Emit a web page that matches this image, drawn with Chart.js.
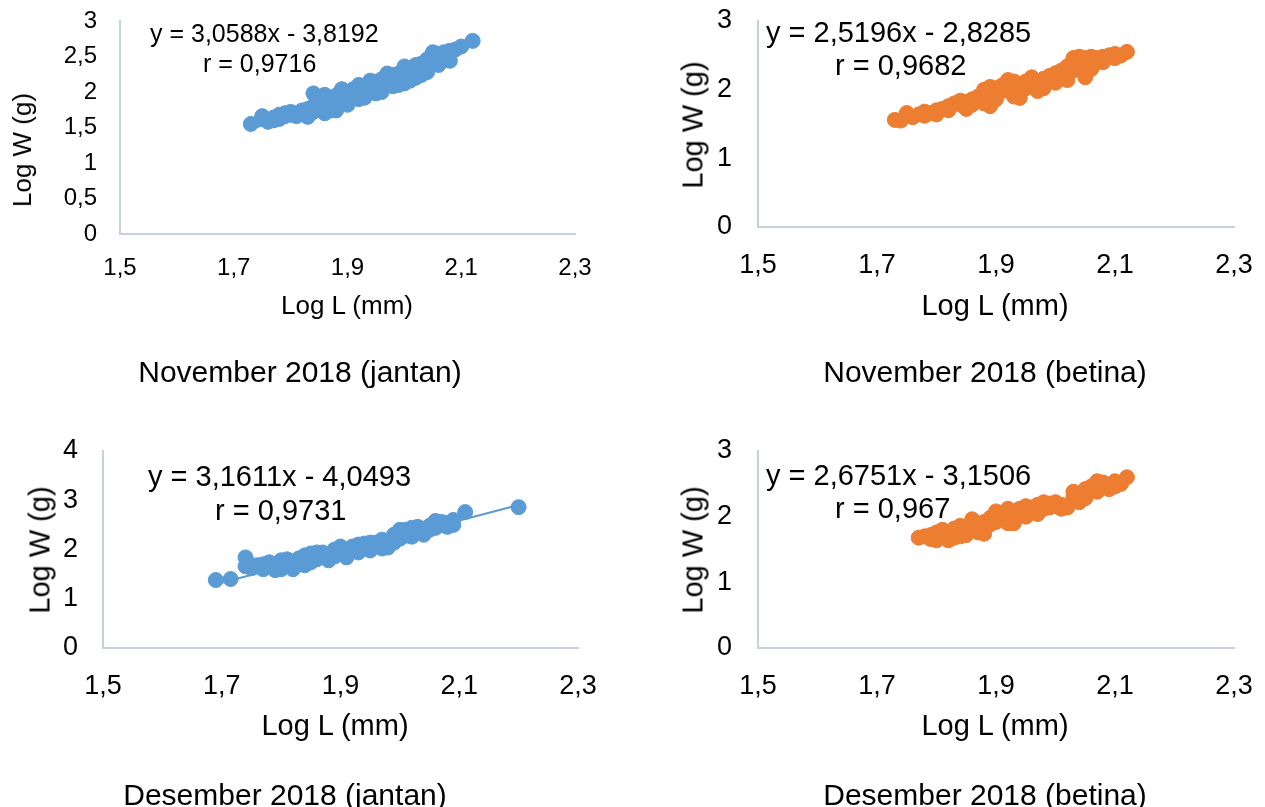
<!DOCTYPE html>
<html><head><meta charset="utf-8">
<script src="https://cdn.jsdelivr.net/npm/chart.js@4.4.0/dist/chart.umd.min.js"></script>
<style>
html,body{margin:0;padding:0;background:#fff;}
body{width:1265px;height:807px;position:relative;overflow:hidden;font-family:"Liberation Sans",Arial,sans-serif;}
canvas{position:absolute;}
.t{position:absolute;white-space:nowrap;color:#000;line-height:1;}
</style></head><body>
<script>
// ---------- DATA ----------
const xTickValues = [1.5, 1.7, 1.9, 2.1, 2.3];
const xTickLabels = ['1,5', '1,7', '1,9', '2,1', '2,3'];
const yTickValuesNovJantan = [0, 0.5, 1, 1.5, 2, 2.5, 3];
const yTickLabelsNovJantan = ['0', '0,5', '1', '1,5', '2', '2,5', '3'];
const yTickValues3 = [0, 1, 2, 3];
const yTickLabels3 = ['0', '1', '2', '3'];
const yTickValues4 = [0, 1, 2, 3, 4];
const yTickLabels4 = ['0', '1', '2', '3', '4'];

const titles = ['November 2018 (jantan)', 'November 2018 (betina)', 'Desember 2018 (jantan)', 'Desember 2018 (betina)'];
const equations = ['y = 3,0588x - 3,8192', 'y = 2,5196x - 2,8285', 'y = 3,1611x - 4,0493', 'y = 2,6751x - 3,1506'];
const rValues = ['r = 0,9716', 'r = 0,9682', 'r = 0,9731', 'r = 0,967'];
const slopes = [3.0588, 2.5196, 3.1611, 2.6751];
const intercepts = [-3.8192, -2.8285, -4.0493, -3.1506];

const novJantanL = [1.73,1.75,1.75,1.76,1.77,1.77,1.78,1.78,1.79,1.79,1.80,1.80,1.81,1.81,1.82,1.82,1.83,1.83,1.84,1.84,1.84,1.85,1.85,1.86,1.86,1.86,1.87,1.87,1.87,1.88,1.88,1.88,1.89,1.89,1.90,1.90,1.90,1.91,1.91,1.92,1.92,1.92,1.93,1.93,1.94,1.94,1.95,1.95,1.95,1.96,1.96,1.97,1.97,1.98,1.98,1.98,1.99,1.99,2.00,2.00,2.00,2.01,2.01,2.02,2.02,2.02,2.03,2.03,2.04,2.04,2.04,2.05,2.05,2.06,2.06,2.07,2.07,2.08,2.08,2.09,2.10,2.12,
  1.86,1.89,1.90,1.93,1.94,1.96,1.97,1.99,2.00,2.01,2.03,2.05,2.06,1.88,1.92];
const novJantanW = [1.55,1.62,1.66,1.58,1.60,1.64,1.62,1.68,1.66,1.70,1.68,1.72,1.70,1.66,1.74,1.70,1.65,1.76,1.98,1.80,1.72,1.84,1.78,1.70,1.88,1.82,1.74,1.92,1.86,1.95,1.90,1.80,1.98,1.88,1.94,2.00,1.86,1.96,2.04,2.06,1.98,1.90,2.02,2.08,2.10,2.00,2.14,2.04,1.98,2.18,2.10,2.12,2.20,2.16,2.24,2.08,2.26,2.20,2.30,2.22,2.12,2.34,2.26,2.38,2.30,2.20,2.40,2.32,2.46,2.36,2.28,2.50,2.42,2.54,2.46,2.56,2.50,2.58,2.44,2.60,2.64,2.72,
  1.96,2.04,1.82,1.92,2.16,2.00,2.26,2.10,2.36,2.16,2.24,2.56,2.38,1.74,2.10];

const novBetinaL = [1.73,1.74,1.75,1.75,1.76,1.77,1.78,1.78,1.79,1.80,1.80,1.81,1.82,1.82,1.83,1.84,1.84,1.85,1.85,1.86,1.87,1.87,1.88,1.88,1.88,1.89,1.89,1.90,1.90,1.91,1.91,1.92,1.92,1.93,1.93,1.94,1.94,1.95,1.95,1.96,1.96,1.97,1.97,1.98,1.98,1.99,1.99,2.00,2.00,2.01,2.01,2.02,2.02,2.03,2.03,2.04,2.04,2.05,2.05,2.05,2.06,2.06,2.07,2.07,2.08,2.08,2.09,2.10,2.10,2.11,2.12,
  1.86,1.89,1.90,1.92,1.94,1.96,1.98,2.00,2.02,2.03,2.04,2.06,1.93,1.97];
const novBetinaW = [1.56,1.55,1.62,1.66,1.60,1.64,1.62,1.68,1.66,1.70,1.64,1.72,1.76,1.70,1.80,1.78,1.84,1.72,1.82,1.86,1.90,1.84,2.00,1.92,1.80,1.76,1.96,2.02,1.94,2.06,1.98,2.10,2.00,2.04,1.90,2.08,1.96,2.12,2.02,2.06,2.14,2.10,2.00,2.16,2.08,2.12,2.20,2.18,2.10,2.28,2.16,2.34,2.22,2.40,2.28,2.44,2.32,2.46,2.36,2.18,2.42,2.30,2.40,2.46,2.48,2.40,2.50,2.46,2.52,2.50,2.55,
  1.78,2.04,1.86,2.14,1.88,2.18,2.02,2.24,2.14,2.46,2.48,2.48,2.12,1.98];

const desJantanL = [1.69,1.715,1.74,1.74,1.745,1.75,1.76,1.77,1.77,1.78,1.78,1.79,1.79,1.80,1.80,1.81,1.81,1.82,1.82,1.83,1.83,1.84,1.84,1.85,1.85,1.86,1.86,1.87,1.88,1.88,1.89,1.89,1.90,1.90,1.91,1.91,1.92,1.92,1.93,1.93,1.94,1.94,1.95,1.95,1.96,1.96,1.97,1.97,1.98,1.98,1.99,1.99,2.00,2.00,2.01,2.01,2.02,2.02,2.03,2.03,2.04,2.04,2.05,2.05,2.06,2.06,2.07,2.07,2.08,2.08,2.09,2.09,2.11,2.20,
  1.95,1.97,1.99,2.00,2.02,2.04,2.06,1.93,1.90,1.87,1.84,1.80];
const desJantanW = [1.38,1.40,1.84,1.66,1.72,1.62,1.68,1.60,1.70,1.66,1.74,1.58,1.70,1.64,1.78,1.72,1.80,1.60,1.76,1.70,1.82,1.68,1.78,1.92,1.74,1.80,1.94,1.84,1.78,1.90,2.00,1.86,1.94,2.02,1.84,1.98,2.06,1.96,2.10,2.00,2.04,2.12,2.08,1.98,2.14,2.06,2.20,2.10,2.16,2.04,2.24,2.30,2.22,2.34,2.28,2.40,2.36,2.26,2.46,2.38,2.42,2.34,2.48,2.40,2.52,2.44,2.50,2.56,2.54,2.46,2.60,2.50,2.76,2.86,
  2.14,2.02,2.14,2.40,2.44,2.30,2.58,1.94,2.06,1.94,1.88,1.60];

const desBetinaL = [1.77,1.78,1.79,1.79,1.80,1.80,1.81,1.81,1.82,1.82,1.83,1.83,1.84,1.84,1.85,1.85,1.86,1.86,1.87,1.87,1.88,1.88,1.89,1.89,1.90,1.90,1.91,1.91,1.92,1.92,1.93,1.93,1.94,1.94,1.95,1.95,1.96,1.96,1.97,1.97,1.98,1.99,1.99,2.00,2.01,2.02,2.03,2.03,2.04,2.04,2.05,2.05,2.06,2.06,2.07,2.07,2.08,2.08,2.09,2.10,2.10,2.11,2.12,
  1.86,1.88,1.90,1.92,1.93,1.95,1.97,1.98,2.00,2.01,2.05,2.07,2.09,1.84,1.82];
const desBetinaW = [1.68,1.70,1.66,1.72,1.64,1.76,1.70,1.80,1.64,1.74,1.82,1.68,1.78,1.86,1.72,1.84,1.80,1.90,1.86,1.76,1.92,1.82,1.88,1.98,2.02,1.92,1.96,2.06,2.02,1.90,2.08,1.98,2.04,2.12,2.00,2.10,2.14,2.06,2.10,2.18,2.12,2.20,2.14,2.16,2.18,2.14,2.38,2.30,2.34,2.22,2.42,2.36,2.40,2.46,2.50,2.38,2.44,2.52,2.48,2.54,2.46,2.50,2.60,
  1.96,1.74,2.08,2.12,1.90,2.16,2.04,2.22,2.22,2.12,2.28,2.54,2.42,1.70,1.66];

// ---------- LAYOUT ----------
const BLUE = '#5B9BD5', ORANGE = '#ED7D31', AXIS = '#C5D0E0';
const panels = [
  {xs: novJantanL, ys: novJantanW, color: BLUE, yMax: 3, yv: yTickValuesNovJantan, yl: yTickLabelsNovJantan,
   box: [0, 0, 632, 420], area: [120, 21, 575, 234], tick: 24, xPad: 20, yPad: 23,
   eqFont: 25, eq1: [150, 33], eq2: [203, 63], titleFont: 26, subFont: 30, xt: [347, 305], yt: [22, 150], sub: [300, 372]},
  {xs: novBetinaL, ys: novBetinaW, color: ORANGE, yMax: 3, yv: yTickValues3, yl: yTickLabels3,
   box: [632, 0, 633, 420], area: [758, 21, 1234, 227], tick: 27, xPad: 22, yPad: 26,
   eqFont: 29, eq1: [766, 32], eq2: [835, 65], titleFont: 29, subFont: 30, xt: [995, 305], yt: [693, 125], sub: [985, 372]},
  {xs: desJantanL, ys: desJantanW, color: BLUE, yMax: 4, yv: yTickValues4, yl: yTickLabels4,
   box: [0, 420, 632, 387], area: [103, 451, 578, 648], tick: 27, xPad: 22, yPad: 25,
   eqFont: 29, eq1: [148, 476], eq2: [215, 510], titleFont: 29, subFont: 30, xt: [335, 725], yt: [40, 550], sub: [285, 795]},
  {xs: desBetinaL, ys: desBetinaW, color: ORANGE, yMax: 3, yv: yTickValues3, yl: yTickLabels3,
   box: [632, 420, 633, 387], area: [758, 451, 1234, 648], tick: 27, xPad: 22, yPad: 26,
   eqFont: 29, eq1: [766, 475], eq2: [835, 508], titleFont: 29, subFont: 30, xt: [995, 725], yt: [693, 550], sub: [985, 795]}
];

function addText(txt, x, y, size, mode) {
  const d = document.createElement('div');
  d.className = 't';
  d.textContent = txt;
  d.style.left = x + 'px';
  d.style.top = y + 'px';
  d.style.fontSize = size + 'px';
  if (mode === 'center') d.style.transform = 'translate(-50%,-50%)';
  else if (mode === 'rot') d.style.transform = 'translate(-50%,-50%) rotate(-90deg)';
  else d.style.transform = 'translateY(-50%)';
  document.body.appendChild(d);
}

const YW = 60, XH = 60;
panels.forEach((p, k) => {
  const [bl, bt, bw, bh] = p.box;
  const [al, at, ar, ab] = p.area;
  const cv = document.createElement('canvas');
  cv.width = bw; cv.height = bh;
  cv.style.left = bl + 'px'; cv.style.top = bt + 'px';
  cv.style.width = bw + 'px'; cv.style.height = bh + 'px';
  document.body.appendChild(cv);

  const minX = Math.min(...p.xs), maxX = Math.max(...p.xs);
  const trend = [{x: minX, y: slopes[k] * minX + intercepts[k]}, {x: maxX, y: slopes[k] * maxX + intercepts[k]}];

  new Chart(cv, {
    type: 'scatter',
    data: {
      datasets: [
        {type: 'line', data: trend, borderColor: p.color, borderWidth: 2, pointRadius: 0, fill: false, order: 0},
        {data: p.xs.map((x, i) => ({x: x, y: p.ys[i]})), backgroundColor: p.color, borderColor: p.color,
         borderWidth: 1, pointRadius: 7.5, pointHoverRadius: 7.5, order: 1}
      ]
    },
    options: {
      responsive: false, animation: false, devicePixelRatio: 1,
      layout: {autoPadding: false, padding: {left: al - bl - YW, top: at - bt, right: bl + bw - ar, bottom: bt + bh - ab - XH}},
      plugins: {legend: {display: false}, tooltip: {enabled: false}, title: {display: false}},
      scales: {
        x: {
          type: 'linear', min: 1.5, max: 2.3,
          afterFit: s => { s.height = XH; s.paddingLeft = 0; s.paddingRight = 0; s.paddingTop = 0; s.paddingBottom = 0; },
          afterBuildTicks: s => { s.ticks = xTickValues.map(v => ({value: v})); },
          grid: {display: false, drawTicks: false},
          border: {display: true, color: AXIS, width: 2},
          ticks: {padding: p.xPad, color: '#000', font: {family: 'Liberation Sans', size: p.tick},
                  maxRotation: 0, autoSkip: false, callback: (v, i) => xTickLabels[i]}
        },
        y: {
          type: 'linear', min: 0, max: p.yMax,
          afterFit: s => { s.width = YW; s.paddingLeft = 0; s.paddingRight = 0; s.paddingTop = 0; s.paddingBottom = 0; },
          afterBuildTicks: s => { s.ticks = p.yv.map(v => ({value: v})); },
          grid: {display: false, drawTicks: false},
          border: {display: true, color: AXIS, width: 2},
          ticks: {padding: p.yPad, color: '#000', font: {family: 'Liberation Sans', size: p.tick},
                  autoSkip: false, callback: (v, i) => p.yl[i]}
        }
      }
    }
  });

  addText(equations[k], p.eq1[0], p.eq1[1], p.eqFont, 'left');
  addText(rValues[k], p.eq2[0], p.eq2[1], p.eqFont, 'left');
  addText('Log L (mm)', p.xt[0], p.xt[1], p.titleFont, 'center');
  addText('Log W (g)', p.yt[0], p.yt[1], p.titleFont, 'rot');
  addText(titles[k], p.sub[0], p.sub[1], p.subFont, 'center');
});
</script>
</body></html>
